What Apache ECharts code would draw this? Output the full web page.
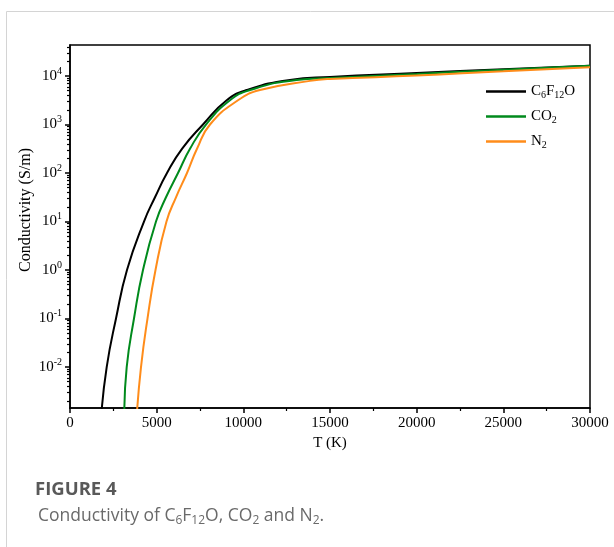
<!DOCTYPE html>
<html><head><meta charset="utf-8">
<script src="https://cdn.jsdelivr.net/npm/echarts@6/dist/echarts.min.js"></script>
<style>html,body{margin:0;padding:0;background:#fff}#c{width:614px;height:547px}</style>
</head><body><div id="c"></div>
<script>
// ---- data (T in K, conductivity in S/m) ----
const seriesNames = ['C6F12O', 'CO2', 'N2'];
const c6f12oT = [1800, 2117, 2654, 3288, 4269, 4904, 5596, 6461, 7673, 9040, 10194, 12692, 15000, 20000, 25000, 30000];
const c6f12oS = [0.001, 0.01, 0.1, 1, 10, 31.6, 100, 316, 1000, 3160, 5130, 8320, 9550, 11500, 13800, 16200];
const co2T = [3130, 3271, 3692, 4211, 4961, 5538, 6231, 6923, 7846, 9230, 10384, 13078, 15000, 20000, 25000, 30000];
const co2S = [0.001, 0.01, 0.1, 1, 10, 31.6, 100, 316, 1000, 3160, 5130, 8320, 9120, 11000, 13500, 16200];
const n2T = [3850, 4096, 4471, 4933, 5567, 6115, 6750, 7327, 8077, 9692, 10961, 13846, 15000, 20000, 25000, 30000];
const n2S = [0.001, 0.01, 0.1, 1, 10, 31.6, 100, 316, 1000, 3160, 5130, 7940, 8710, 10200, 12600, 15100];
const xTicks = [0, 5000, 10000, 15000, 20000, 25000, 30000];
const yMajorTicks = [0.01, 0.1, 1, 10, 100, 1000, 10000];
const yMin = 0.00143, yMax = 43600;

const colors = ['#000000', '#008a1c', '#ff8c1a'];
const legendRich = {
  'C6F12O': '{n|C}{s|6}{n|F}{s|12}{n|O}',
  'CO2': '{n|CO}{s|2}',
  'N2': '{n|N}{s|2}'
};
const minorTicks = [];
for (let d = -3; d <= 4; d++) {
  for (let k = 2; k <= 9; k++) {
    const v = k * Math.pow(10, d);
    if (v > yMin && v < yMax) minorTicks.push(v);
  }
}
const serif = 'Liberation Serif';
const zip = (a, b) => a.map((t, i) => [t, b[i]]);
const dataSets = [zip(c6f12oT, c6f12oS), zip(co2T, co2S), zip(n2T, n2S)];

const chart = echarts.init(document.getElementById('c'), null, {renderer: 'canvas'});
chart.setOption({
  animation: false,
  backgroundColor: '#fff',
  grid: {left: 70, top: 45, right: 24, bottom: 139, show: true, borderColor: '#000', borderWidth: 1.5, backgroundColor: 'transparent', outerBoundsMode: 'none'},
  legend: {
    orient: 'vertical', left: 486, top: 84, padding: 0, itemWidth: 40, itemHeight: 2.5, itemGap: 8.5,
    icon: 'rect', data: seriesNames,
    formatter: n => legendRich[n],
    textStyle: {fontFamily: serif, fontSize: 15, color: '#000',
      rich: {n: {fontFamily: serif, fontSize: 15, color: '#000', lineHeight: 18},
             s: {fontFamily: serif, fontSize: 10, color: '#000', lineHeight: 8, verticalAlign: 'bottom'}}}
  },
  xAxis: {
    type: 'value', min: 0, max: 30000, interval: 5000,
    axisLine: {lineStyle: {color: '#000', width: 1.5}},
    axisTick: {length: 5, lineStyle: {color: '#000', width: 1.5}},
    minorTick: {show: true, splitNumber: 2, length: 3, lineStyle: {color: '#000', width: 1.2}},
    splitLine: {show: false}, minorSplitLine: {show: false},
    axisLabel: {color: '#000', fontFamily: serif, fontSize: 15, margin: 8, formatter: v => String(v)},
    name: 'T (K)', nameLocation: 'middle', nameGap: 26,
    nameTextStyle: {color: '#000', fontFamily: serif, fontSize: 15}
  },
  yAxis: [{
    type: 'log', logBase: 10, min: yMin, max: yMax,
    axisLine: {show: true, lineStyle: {color: '#000', width: 1.5}},
    axisTick: {show: true, length: 5, customValues: yMajorTicks, lineStyle: {color: '#000', width: 1.5}},
    splitLine: {show: false},
    axisLabel: {
      customValues: yMajorTicks, margin: 8, color: '#000',
      formatter: v => '{b|10}{s|' + Math.round(Math.log10(v)) + '}',
      rich: {b: {fontFamily: serif, fontSize: 15, color: '#000', lineHeight: 20},
             s: {fontFamily: serif, fontSize: 10, color: '#000', lineHeight: 14, verticalAlign: 'top'}}
    }
  }, {
    type: 'log', logBase: 10, min: yMin, max: yMax, position: 'left',
    axisLine: {show: false},
    axisTick: {show: true, length: 3, customValues: minorTicks, lineStyle: {color: '#000', width: 1.2}},
    axisLabel: {show: false}, splitLine: {show: false}
  }],
  graphic: [
    {type: 'line', shape: {x1: 6.5, y1: 11.5, x2: 614, y2: 11.5}, style: {stroke: '#d4d4d4', lineWidth: 1}},
    {type: 'line', shape: {x1: 6.5, y1: 11.5, x2: 6.5, y2: 547}, style: {stroke: '#d4d4d4', lineWidth: 1}},
    {type: 'text', x: 26, y: 210, rotation: Math.PI / 2,
      style: {text: 'Conductivity (S/m)', fontFamily: serif, fontSize: 16, fill: '#000', align: 'center', verticalAlign: 'middle'}},
    {type: 'text', x: 35, y: 490,
      style: {text: 'FIGURE 4', fontFamily: 'Open Sans', fontWeight: 'bold', fontSize: 18.5, fill: '#595959', align: 'left', verticalAlign: 'middle'}},
    {type: 'text', x: 38, y: 516,
      style: {text: '{t|Conductivity of C}{s|6}{t|F}{s|12}{t|O, CO}{s|2}{t| and N}{s|2}{t|.}',
        align: 'left', verticalAlign: 'middle',
        rich: {t: {fontFamily: 'Open Sans', fontSize: 17.5, fill: '#6a6a6a', color: '#6a6a6a', lineHeight: 22},
               s: {fontFamily: 'Open Sans', fontSize: 12, fill: '#6a6a6a', color: '#6a6a6a', lineHeight: 11, verticalAlign: 'bottom'}}}}
  ],
  series: seriesNames.map((name, i) => ({
    name: name, type: 'line', data: dataSets[i], yAxisIndex: 0,
    showSymbol: false, smooth: 0.5, clip: true,
    lineStyle: {color: colors[i], width: 2}, itemStyle: {color: colors[i]}
  }))
});
</script></body></html>
